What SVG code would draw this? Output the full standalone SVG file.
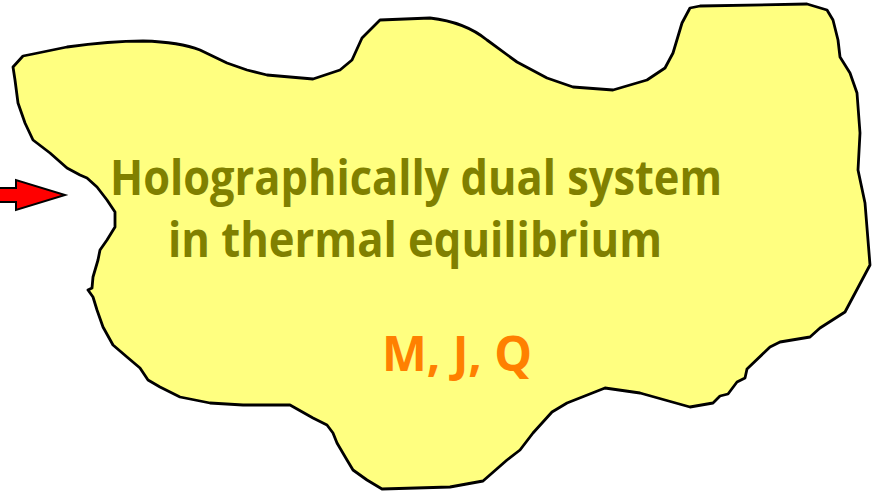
<svg xmlns="http://www.w3.org/2000/svg" width="874" height="493" viewBox="0 0 874 493">
<style>
.blob{fill:#FFFF80;stroke:#000;stroke-width:2.8;stroke-linejoin:round}
.arrow{fill:#FF0000;stroke:#000;stroke-width:2;stroke-linejoin:miter}
.t{font-family:"Open Sans",Lato,"Liberation Sans",sans-serif;font-weight:bold;text-anchor:middle}
.olive{fill:#808000;font-size:48px}
.orange{fill:#FF8000;font-size:48px}
</style>
<rect width="874" height="493" fill="#FFFFFF"/>
<g id="system">
<path class="blob" d="M13,67 L23,56 L33,54 L67,47 Q110,41 143,41 Q180,42 200,50 L227,63 L247,70 L267,75 L313,79 L340,70 L352,60 L362,38 L380,20 L430,18 Q465,22 487,40 L517,62 L547,78 L573,87 L613,90 L647,80 L665,68 L673,53 L682,23 L690,8 L700,6 L807,4 L827,10 L833,20 L838,40 L840,57 L850,73 L857,93 L860,133 L858,170 L865,203 L870,265 L845,312 L820,328 L810,337 L780,342 L770,347 L747,369 L745,378 L737,382 L728,394 L720,396 L713,403 L690,407 L640,393 L605,388 L567,403 L552,412 L533,433 L520,450 L507,460 L483,481 L450,487 L382,489 L367,480 L353,470 L347,460 L337,443 L333,433 L327,425 L313,418 L290,405 L243,405 L210,403 L180,397 L160,387 L148,380 L140,368 L127,357 L113,345 L103,327 L97,310 L93,297 L88,290 L92,288 L93,277 L98,260 L100,250 L107,240 L115,227 L115,212 L107,200 L97,187 L87,178 L80,175 L67,168 L50,153 L33,140 L25,123 L18,103 L15,80 Z"/>
<text class="t olive" x="416" y="195" textLength="612" lengthAdjust="spacingAndGlyphs">Holographically dual system</text>
<text class="t olive" x="415" y="257" textLength="494" lengthAdjust="spacingAndGlyphs">in thermal equilibrium</text>
<text class="t orange" x="457" y="371" textLength="150" lengthAdjust="spacingAndGlyphs">M, J, Q</text>
</g>
<g id="connectors">
<path class="arrow" d="M-2,188 L16,188 L16,180 L65,195 L16,210 L16,202 L-2,202 Z"/>
</g>
</svg>
